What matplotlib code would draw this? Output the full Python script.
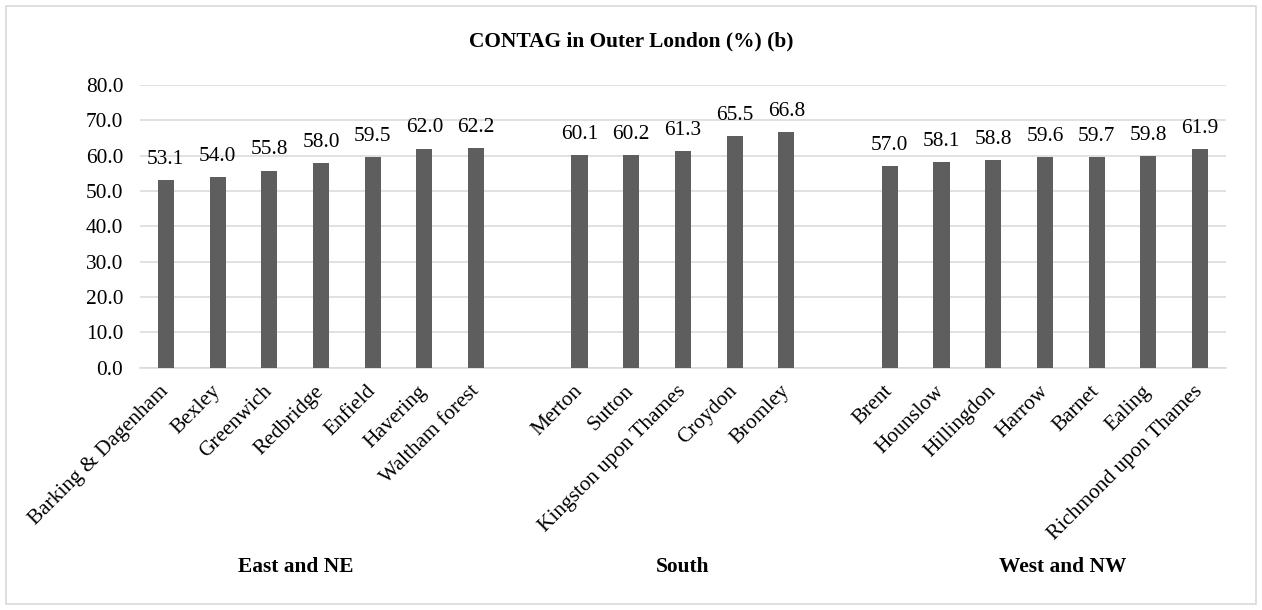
import matplotlib.pyplot as plt
import numpy as np
from matplotlib.patches import Rectangle
from matplotlib.transforms import blended_transform_factory

# CONTAG share by borough, grouped by sub-region of Outer London
east_boroughs = ['Barking & Dagenham', 'Bexley', 'Greenwich', 'Redbridge',
                 'Enfield', 'Havering', 'Waltham forest']
east_values = [53.1, 54.0, 55.8, 58.0, 59.5, 62.0, 62.2]

south_boroughs = ['Merton', 'Sutton', 'Kingston upon Thames', 'Croydon', 'Bromley']
south_values = [60.1, 60.2, 61.3, 65.5, 66.8]

west_boroughs = ['Brent', 'Hounslow', 'Hillingdon', 'Harrow', 'Barnet',
                 'Ealing', 'Richmond upon Thames']
west_values = [57.0, 58.1, 58.8, 59.6, 59.7, 59.8, 61.9]

group_names = ['East and NE', 'South', 'West and NW']

plt.rcParams['font.family'] = ['Liberation Serif', 'DejaVu Serif']
FS = 15.4

# one empty slot between groups, like the Excel layout
groups = [(east_boroughs, east_values), (south_boroughs, south_values),
          (west_boroughs, west_values)]
positions, labels, values = [], [], []
slot = 0
for names, vals in groups:
    for n, v in zip(names, vals):
        positions.append(slot)
        labels.append(n)
        values.append(v)
        slot += 1
    slot += 1
n_slots = slot - 1

fig = plt.figure(figsize=(12.62, 6.10), dpi=100)
ax = fig.add_axes([0.1109, 0.3972, 0.8605, 0.4635])

bars = ax.bar(positions, values, width=0.31, color='#5e5e5e', zorder=3)
for b, v in zip(bars, values):
    ax.annotate(f'{v:.1f}', (b.get_x() + b.get_width() / 2, v),
                xytext=(0, 8), textcoords='offset points',
                ha='center', va='bottom', fontsize=FS)

ax.set_xlim(-0.5, n_slots - 0.5)
ax.set_ylim(0, 80)
ax.set_yticks(np.arange(0, 81, 10))
ax.set_yticklabels([f'{t:.1f}' for t in np.arange(0, 81, 10)], fontsize=FS)
ax.grid(axis='y', color='#d9d9d9', linewidth=1.1, zorder=0)
ax.set_axisbelow(True)
for s in ['top', 'right', 'left']:
    ax.spines[s].set_visible(False)
ax.spines['bottom'].set_color('#d9d9d9')
ax.spines['bottom'].set_linewidth(1.1)
ax.tick_params(axis='both', length=0)
ax.tick_params(axis='y', pad=12)

ax.set_xticks(positions)
ax.set_xticklabels(labels, rotation=45, ha='right', va='center',
                   rotation_mode='anchor', fontsize=FS)
ax.tick_params(axis='x', pad=15)

# region names under the borough labels
trans = blended_transform_factory(ax.transData, fig.transFigure)
group_x = [2.52, 10.0, 17.35]
for gx, name in zip(group_x, group_names):
    ax.text(gx, 1 - 567 / 610, name, transform=trans, ha='center', va='center',
            fontsize=FS, fontweight='bold')

fig.text(0.5, 1 - 41 / 610, 'CONTAG in Outer London (%) (b)', ha='center',
         va='center', fontsize=FS, fontweight='bold')

# light frame around the whole chart
fig.patches.append(Rectangle((6 / 1262, 6 / 610), 1250 / 1262, 598 / 610,
                             transform=fig.transFigure, fill=False,
                             edgecolor='#d9d9d9', linewidth=1.2))

fig.savefig('out.png', dpi=100)
